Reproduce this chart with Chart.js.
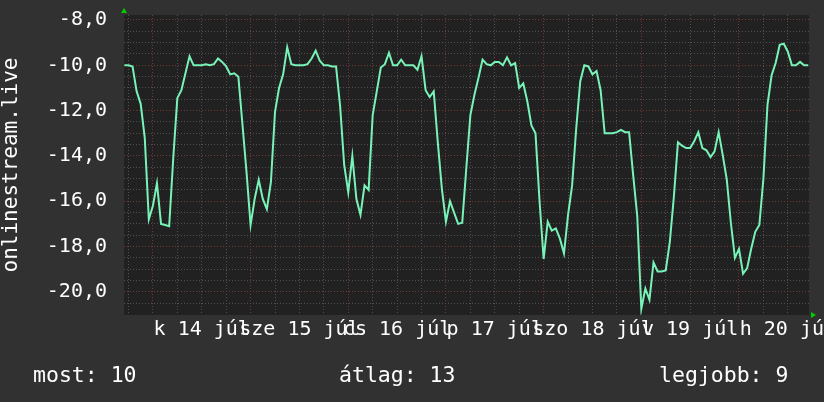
<!DOCTYPE html>
<html>
<head>
<meta charset="utf-8">
<script src="https://cdn.jsdelivr.net/npm/chart.js@4.4.0/dist/chart.umd.min.js"></script>
<style>
html, body { margin: 0; padding: 0; background: #313131; }
#wrap { width: 824px; height: 402px; }
</style>
</head>
<body>
<div id="wrap"><canvas id="myChart" width="824" height="402"></canvas></div>
<script>
/* Data section: one value per hour, starting 13 júl 17:00 (hour 17 of the week) */
var startHour = 17;
var streamValues = [
    -10.0, -10.0, -10.05, -11.15, -11.7, -13.2, -16.8, -16.2, -15.2, -17.0,
    -17.05, -17.1, -14.1, -11.45, -11.1, -10.35, -9.6, -10.0, -10.0, -10.0,
    -9.95, -10.0, -9.95, -9.7, -9.85, -10.05, -10.4, -10.35, -10.5, -12.6,
    -14.7, -17.05, -15.9, -15.05, -15.9, -16.35, -15.15, -12.05, -11.0, -10.4,
    -9.2, -9.95, -10.0, -10.0, -10.0, -9.95, -9.7, -9.35, -9.8, -10.0,
    -10.0, -10.05, -10.05, -11.8, -14.4, -15.6, -14.0, -15.9, -16.6, -15.3,
    -15.5, -12.2, -11.15, -10.1, -9.95, -9.45, -10.0, -10.0, -9.75, -10.0,
    -10.0, -10.0, -10.2, -9.6, -11.1, -11.4, -11.15, -13.4, -15.45, -16.9,
    -16.0, -16.5, -17.0, -16.95, -14.55, -12.2, -11.3, -10.55, -9.75, -9.95,
    -10.0, -9.85, -9.85, -10.0, -9.65, -10.0, -9.9, -11.0, -10.8, -11.6,
    -12.65, -13.0, -16.0, -18.55, -16.9, -17.3, -17.2, -17.65, -18.3, -16.6,
    -15.3, -12.8, -10.7, -10.0, -10.05, -10.4, -10.25, -11.1, -13.0, -13.0,
    -13.0, -12.95, -12.85, -12.95, -12.95, -14.85, -16.65, -20.75, -19.85, -20.35,
    -18.7, -19.1, -19.1, -19.05, -17.8, -15.8, -13.4, -13.55, -13.65, -13.65,
    -13.35, -12.95, -13.65, -13.75, -14.05, -13.8, -12.95, -13.95, -15.05, -16.95,
    -18.5, -18.1, -19.2, -18.95, -18.1, -17.35, -17.05, -15.0, -11.75, -10.45,
    -9.9, -9.1, -9.05, -9.4, -10.0, -10.0, -9.85, -10.0, -10.0
];
var streamHours = streamValues.map(function (v, i) { return startHour + i; });

// day labels sit at noon of each day
var dayHours = [36, 60, 84, 108, 132, 156, 180];
var dayLabels = ['k 14 júl', 'sze 15 júl', 'cs 16 júl', 'p 17 júl', 'szo 18 júl', 'v 19 júl', 'h 20 júl'];
var yLabelValues = [-20, -18, -16, -14, -12, -10, -8];
var footerTexts = ['most: 10', 'átlag: 13', 'legjobb: 9'];
var axisTitle = 'onlinestream.live';

var monoFont = 'DejaVu Sans Mono';

/* Plugins: plot background, arrows, footer */
var rrdDecor = {
    id: 'rrdDecor',
    beforeDraw: function (chart) {
        var c = chart.ctx, a = chart.chartArea;
        c.save();
        c.fillStyle = '#212121';
        c.fillRect(a.left, a.top, a.right - a.left, a.bottom - a.top);
        c.restore();
    },
    afterDraw: function (chart) {
        var c = chart.ctx, a = chart.chartArea;
        c.save();
        c.fillStyle = '#00d000';
        c.beginPath();
        c.moveTo(a.left - 3, a.top - 2);
        c.lineTo(a.left + 3, a.top - 2);
        c.lineTo(a.left, a.top - 7);
        c.closePath();
        c.fill();
        c.beginPath();
        c.moveTo(a.right + 2, a.bottom - 3);
        c.lineTo(a.right + 2, a.bottom + 3);
        c.lineTo(a.right + 7, a.bottom);
        c.closePath();
        c.fill();

        c.fillStyle = '#ffffff';
        c.font = '21.5px "' + monoFont + '"';
        c.textBaseline = 'alphabetic';
        c.textAlign = 'left';
        c.fillText(footerTexts[0], 33, 382);
        c.fillText(footerTexts[1], 339, 382);
        c.fillText(footerTexts[2], 659, 382);
        c.restore();
    }
};

var ctx = document.getElementById('myChart').getContext('2d');
var myChart = new Chart(ctx, {
    type: 'line',
    data: {
        labels: streamHours,
        datasets: [{
            data: streamValues,
            borderColor: '#78f3b8',
            borderWidth: 2,
            pointRadius: 0,
            tension: 0,
            fill: false
        }]
    },
    plugins: [rrdDecor],
    options: {
        responsive: false,
        animation: false,
        devicePixelRatio: 1,
        layout: { padding: { top: 15, right: 15, left: 0, bottom: 0 } },
        plugins: { legend: { display: false }, tooltip: { enabled: false } },
        scales: {
            x: {
                type: 'linear',
                min: 16.9,
                max: 185.2,
                afterBuildTicks: function (scale) {
                    var t = [];
                    for (var h = 18; h <= 184; h += 6) t.push({ value: h });
                    scale.ticks = t;
                },
                afterFit: function (scale) {
                    scale.height = 87;
                    scale.paddingLeft = 0;
                    scale.paddingRight = 0;
                },
                ticks: {
                    autoSkip: false,
                    maxRotation: 0,
                    padding: 3,
                    color: '#ffffff',
                    font: { family: monoFont, size: 20 },
                    callback: function (value) {
                        var i = dayHours.indexOf(value);
                        return i >= 0 ? dayLabels[i] : '';
                    }
                },
                grid: {
                    drawTicks: false,
                    lineWidth: 1,
                    color: function (c) {
                        return c.tick && c.tick.value % 24 === 0 ? '#763737' : '#505050';
                    }
                },
                border: { display: false, dash: [1, 2] }
            },
            y: {
                min: -21.02,
                max: -7.78,
                afterBuildTicks: function (scale) {
                    var t = [];
                    for (var v = -20.5; v <= -8; v += 0.5) t.push({ value: v });
                    scale.ticks = t;
                },
                afterFit: function (scale) {
                    scale.width = 124;
                    scale.paddingTop = 0;
                    scale.paddingBottom = 0;
                },
                ticks: {
                    autoSkip: false,
                    padding: 17,
                    color: '#ffffff',
                    font: { family: monoFont, size: 20 },
                    callback: function (value) {
                        if (yLabelValues.indexOf(value) < 0) return '';
                        return value.toFixed(1).replace('.', ',');
                    }
                },
                grid: {
                    drawTicks: false,
                    lineWidth: 1,
                    color: function (c) {
                        return c.tick && yLabelValues.indexOf(c.tick.value) >= 0 ? '#763737' : '#505050';
                    }
                },
                border: { display: false, dash: [1, 2] },
                title: {
                    display: true,
                    text: axisTitle,
                    color: '#ffffff',
                    font: { family: monoFont, size: 21, lineHeight: 1 },
                    padding: { top: 1, bottom: 0 }
                }
            }
        }
    }
});
</script>
</body>
</html>
